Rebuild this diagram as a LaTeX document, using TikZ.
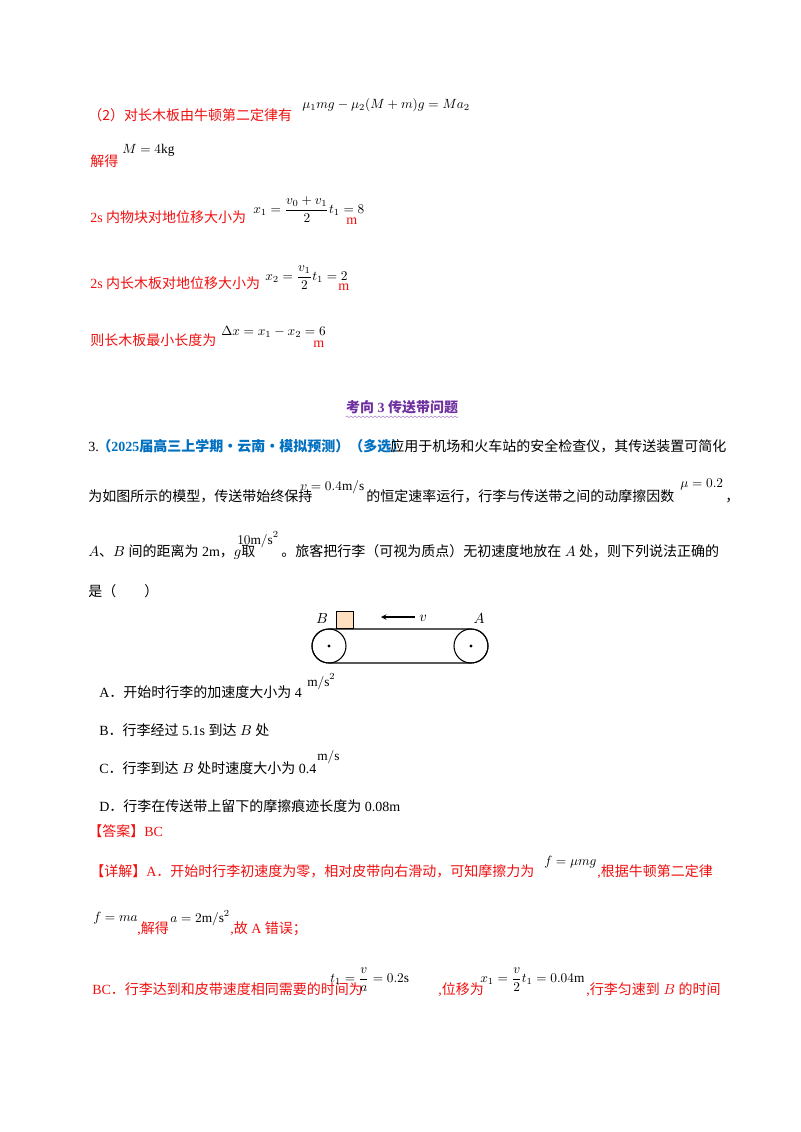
\documentclass[tikz,border=0pt]{standalone}
\usepackage{amsmath}
\usepackage{fontspec}
\setmainfont{Liberation Serif}
\newfontfamily\cjk{Noto Sans CJK SC}
\usetikzlibrary{decorations.pathmorphing}
\definecolor{rd}{HTML}{F01010}
\definecolor{bl}{HTML}{0070C0}
\definecolor{pu}{HTML}{7030A0}
\newcommand{\zh}[1]{{\cjk #1}}
\tikzset{t/.style={anchor=base west,inner sep=0pt,font=\fontsize{10.5}{12}\selectfont},
 s/.style={anchor=west,inner sep=0pt,font=\fontsize{10}{12}\selectfont},
 r/.style={t,text=rd}}
\begin{document}
\begin{tikzpicture}[x=0.75pt,y=-0.75pt]
\fill[white] (0,0) rectangle (800,1132);
\useasboundingbox (0,0) rectangle (800,1132);
% top solution part
\node[r] (l1) at (88,120) {\zh{（2）对长木板由牛顿第二定律有}};
\node[s] (f1) at (302,105) {$\mu_1 mg-\mu_2(M+m)g=Ma_2$};
\node[r] (l2) at (90,166) {\zh{解得}};
\node[s] (f2) at (122,150) {$M=4\mathrm{kg}$};
\node[r] (l3) at (90,222) {2s \zh{内物块对地位移大小为}};
\node[s] (f3) at (253,210) {$x_1=\dfrac{v_0+v_1}{2}t_1=8$};
\node[r] (m3) at (346,224) {m};
\node[r] (l4) at (90,288) {2s \zh{内长木板对地位移大小为}};
\node[s] (f4) at (265,278) {$x_2=\dfrac{v_1}{2}t_1=2$};
\node[r] (m4) at (338,290) {m};
\node[r] (l5) at (90,345) {\zh{则长木板最小长度为}};
\node[s] (f5) at (221,332) {$\Delta x=x_1-x_2=6$};
\node[r] (m5) at (313,347) {m};
% title
\node[t,anchor=base,text=pu,font=\fontsize{10.5}{12}\selectfont\bfseries] (ti) at (402,412) {\zh{考向} 3 \zh{传送带问题}};
\draw[pu!60,decorate,decoration={snake,amplitude=0.6pt,segment length=3pt}] ([yshift=-2.25pt]ti.south west) -- ([yshift=-2.25pt]ti.south east);
% question
\node[t] (q1) at (88,451) {3.};
\node[t,text=bl,font=\fontsize{10.5}{12}\selectfont\bfseries] (q1b) at (97,451) {\zh{（}2025\zh{届高三上学期·云南·模拟预测）（多选）}};
\node[t] (q1c) at (390,451) {\zh{应用于机场和火车站的安全检查仪，其传送装置可简化}};
\node[t] (q2) at (88,501) {\zh{为如图所示的模型，传送带始终保持}};
\node[s] (q2f) at (300,487) {$v=0.4\mathrm{m/s}$};
\node[t] (q2b) at (366,501) {\zh{的恒定速率运行，行李与传送带之间的动摩擦因数}};
\node[s] (q2g) at (680,484) {$\mu=0.2$};
\node[t] (q2c) at (725,501) {\zh{，}};
\node[t] (q3) at (88,556) {$A$\zh{、}$B$ \zh{间的距离为} 2m\zh{，}$g$\zh{取}};
\node[s] (q3f) at (237,540) {$10\mathrm{m/s}^2$};
\node[t] (q3b) at (281,556) {\zh{。旅客把行李（可视为质点）无初速度地放在} $A$ \zh{处，则下列说法正确的}};
\node[t] (q4) at (88,596) {\zh{是（　　）}};
% diagram
\draw[thick] (329,629) -- (471,629) arc[start angle=90,end angle=-90,radius=12.75pt] -- (329,663) arc[start angle=270,end angle=90,radius=12.75pt];
\node[circle,draw,thick,minimum size=25.5pt,inner sep=0] (p1) at (329,646) {};
\node[circle,draw,thick,minimum size=25.5pt,inner sep=0] (p2) at (471,646) {};
\fill (p1.center) circle (1.2pt) (p2.center) circle (1.2pt);
\node[draw,thick,fill=orange!25,minimum size=13pt,inner sep=0,anchor=south west] (box) at (336,629) {};
\node[t,anchor=base] (lB) at (322,623) {$B$};
\node[t,anchor=base] (lA) at (479,623) {$A$};
\coordinate (a1) at (415,617); \coordinate (a2) at (381,617);
\draw[-stealth,thick] (a1) -- (a2);
\node[t] (lv) at (419,621) {$v$};
% options
\node[t] (oA) at (99,697) {A\zh{．开始时行李的加速度大小为} 4};
\node[s] (oAf) at (307,682) {$\mathrm{m/s}^2$};
\node[t] (oB) at (99,735) {B\zh{．行李经过} 5.1s \zh{到达} $B$ \zh{处}};
\node[t] (oC) at (99,773) {C\zh{．行李到达} $B$ \zh{处时速度大小为} 0.4};
\node[s] (oCf) at (317,757) {$\mathrm{m/s}$};
\node[t] (oD) at (99,811) {D\zh{．行李在传送带上留下的摩擦痕迹长度为} 0.08m};
\node[r] (ans) at (88,836) {\zh{【答案】}BC};
\node[r] (d1) at (90,876) {\zh{【详解】}A\zh{．开始时行李初速度为零，相对皮带向右滑动，可知摩擦力为}};
\node[s] (d1f) at (544,862) {$f=\mu mg$};
\node[r] (d1b) at (597,876) {,\zh{根据牛顿第二定律}};
\node[s] (d2f) at (93,918) {$f=ma$};
\node[r] (d2) at (137,933) {,\zh{解得}};
\node[s] (d2g) at (170,918) {$a=2\mathrm{m/s}^2$};
\node[r] (d2d) at (230,933) {,\zh{故} A \zh{错误；}};
\node[r] (d3) at (92,994) {BC\zh{．行李达到和皮带速度相同需要的时间为}};
\node[s] (d3f) at (330,980) {$t_1=\dfrac{v}{a}=0.2\mathrm{s}$};
\node[r] (d3b) at (438,994) {,\zh{位移为}};
\node[s] (d3g) at (480,980) {$x_1=\dfrac{v}{2}t_1=0.04\mathrm{m}$};
\node[r] (d3c) at (586,994) {,\zh{行李匀速到} $B$ \zh{的时间}};
\end{tikzpicture}
\end{document}
